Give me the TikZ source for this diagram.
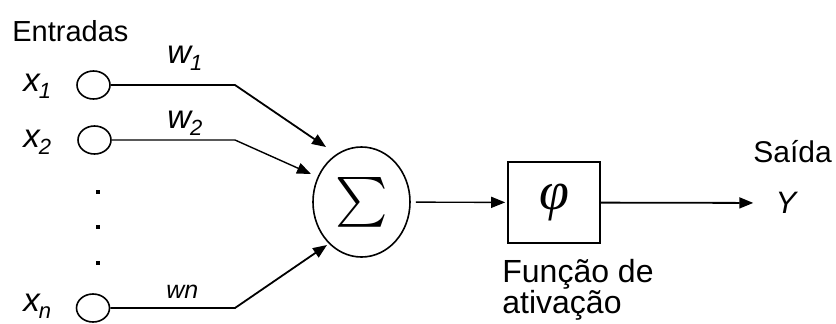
\documentclass[tikz,border=0pt]{standalone}
\usepackage{exscale}
\usepackage{fontspec}
\setmainfont{Liberation Sans}
\newfontfamily\greekfont{Liberation Serif}
\usetikzlibrary{arrows.meta,shapes.geometric,positioning}

\newcommand{\idx}[2]{\textit{#1\kern-0.5pt\raisebox{-0.22em}{\fontsize{11}{12}\selectfont #2}}}

\begin{document}
\begin{tikzpicture}[
  x=0.5pt, y=-0.5pt,
  every node/.style={inner sep=0pt},
  txt/.style={anchor=base west, font=\fontsize{14.5}{17}\selectfont},
  lbl/.style={anchor=base west, font=\fontsize{16.5}{18}\selectfont},
  inp/.style={draw, line width=0.8pt, ellipse, minimum width=16.5pt, minimum height=14pt},
  wire/.style={line width=0.9pt},
  arr/.style={wire, -{Triangle[length=7pt,width=5.5pt]}},
  soma/.style={draw, line width=0.8pt, ellipse, minimum width=48.5pt, minimum height=55pt},
  ativ/.style={draw, line width=0.8pt, rectangle, minimum width=46pt, minimum height=40.5pt}
]
\clip (0,0) rectangle (836,323);

\node[txt] (ent) at (12,41) {Entradas};

\node[lbl] (x1) at (23,91) {\idx{x}{1}};
\node[lbl] (x2) at (23,147) {\idx{x}{2}};
\node[lbl] (xn) at (23,311) {\idx{x}{n}};

\node[inp] (i1) at (93.5,85) {};
\node[inp] (i2) at (94.5,140) {};
\node[inp] (in) at (93,308) {};

\foreach \y in {192,227,263}
  \fill (96.25,\y-2) rectangle ++(4,4);

\node[lbl] (w1) at (167,63) {\idx{w}{1}};
\node[lbl] (w2) at (167,128) {\idx{w}{2}};
\node[anchor=base west, font=\fontsize{12.5}{13}\selectfont\itshape] (wn) at (166,298) {wn};

\node[soma] (s) at (361.5,202) {\fontsize{25}{25}\selectfont$\sum$};
\node[ativ] (phi) at (554,202.5) {\fontsize{27}{27}\selectfont\greekfont\itshape φ};

\coordinate (k1) at (235,85);
\coordinate (k2) at (235,140);
\coordinate (kn) at (235,308);
\coordinate (t1) at (326,147);
\coordinate (t2) at (311,174);
\coordinate (tn) at (327,245);

\draw[arr] (i1) -- (k1) -- (t1);
\draw[arr, line width=0.7pt] (i2) -- (k2) -- (t2);
\draw[arr] (in) -- (kn) -- (tn);

\draw[arr, line width=0.7pt, shorten <=2.5pt, shorten >=1pt] (s) -- (phi);

\node[font=\fontsize{15.5}{17}\selectfont\itshape] (out) at (786,203) {Y};
\draw[arr, shorten >=11pt] (phi) -- (out);
\node[anchor=base west, font=\fontsize{15}{17}\selectfont] (sai) at (753,162) {Saída};

\node[anchor=north west, font=\fontsize{16}{16}\selectfont, align=left] (fa) at (502,259)
  {Função de\\[-0.5pt]ativação};
\end{tikzpicture}
\end{document}
